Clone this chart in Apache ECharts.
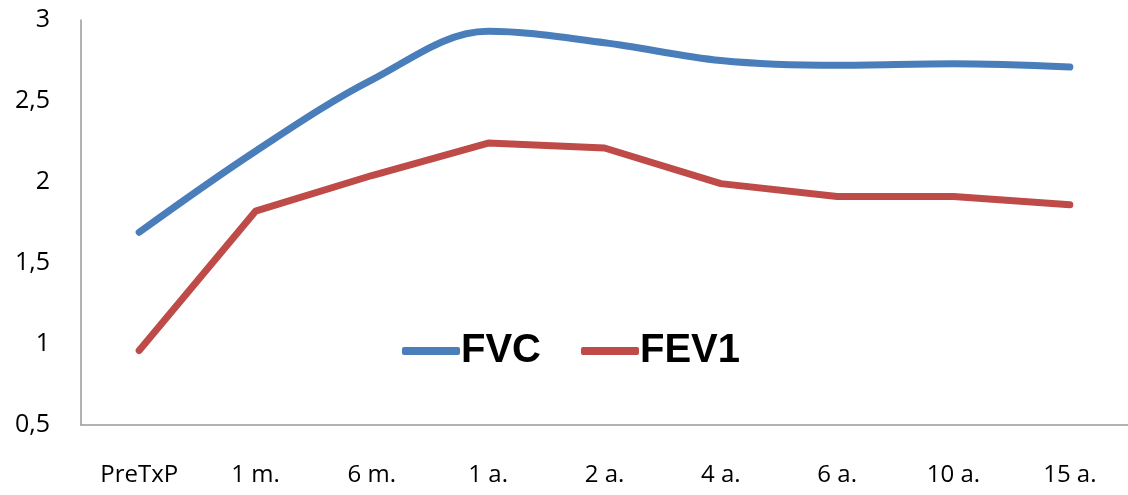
<!DOCTYPE html>
<html>
<head>
<meta charset="utf-8">
<script src="https://cdn.jsdelivr.net/npm/echarts@6/dist/echarts.min.js"></script>
<style>html,body{margin:0;padding:0;background:#fff}#c{width:1128px;height:495px}</style>
</head>
<body>
<div id="c"></div>
<script>
const categories = ['PreTxP', '1 m.', '6 m.', '1 a.', '2 a.', '4 a.', '6 a.', '10 a.', '15 a.'];
const fvc = [1.69, 2.19, 2.63, 2.93, 2.86, 2.75, 2.72, 2.73, 2.71];
const fev1 = [0.96, 1.82, 2.04, 2.24, 2.21, 1.99, 1.91, 1.91, 1.86];
const yTicks = [0.5, 1, 1.5, 2, 2.5, 3];

const chart = echarts.init(document.getElementById('c'));
chart.setOption({
  animation: false,
  grid: { left: 81, right: 0, top: 20, bottom: 70 },
  legend: {
    data: ['FVC', 'FEV1'],
    left: 397, top: 326,
    icon: 'roundRect',
    itemWidth: 58, itemHeight: 8, itemGap: 40,
    textStyle: { fontFamily: 'Liberation Sans', fontWeight: 'bold', fontSize: 40, color: '#000', padding: [0, 0, 0, -4] }
  },
  xAxis: {
    type: 'category', data: categories, boundaryGap: true,
    axisLine: { lineStyle: { color: '#999', width: 1.5 } },
    axisTick: { show: false },
    axisLabel: { margin: 38, fontFamily: 'Open Sans', fontSize: 24, color: '#000' }
  },
  yAxis: {
    type: 'value', min: 0.5, max: 3, interval: 0.5,
    axisLine: { show: true, lineStyle: { color: '#999', width: 1.5 } },
    axisTick: { show: false },
    splitLine: { show: false },
    axisLabel: { margin: 31, fontFamily: 'Open Sans', fontSize: 25, color: '#000',
      formatter: v => yTicks.includes(v) ? String(v).replace('.', ',') : '' }
  },
  series: [
    { name: 'FVC', type: 'line', data: fvc, smooth: 0.35, showSymbol: false, symbol: 'none',
      lineStyle: { color: '#4a7ebb', width: 7, cap: 'round', join: 'round' }, itemStyle: { color: '#4a7ebb' } },
    { name: 'FEV1', type: 'line', data: fev1, smooth: false, showSymbol: false, symbol: 'none',
      lineStyle: { color: '#be4b48', width: 7, cap: 'round', join: 'round' }, itemStyle: { color: '#be4b48' } }
  ]
});
</script>
</body>
</html>
